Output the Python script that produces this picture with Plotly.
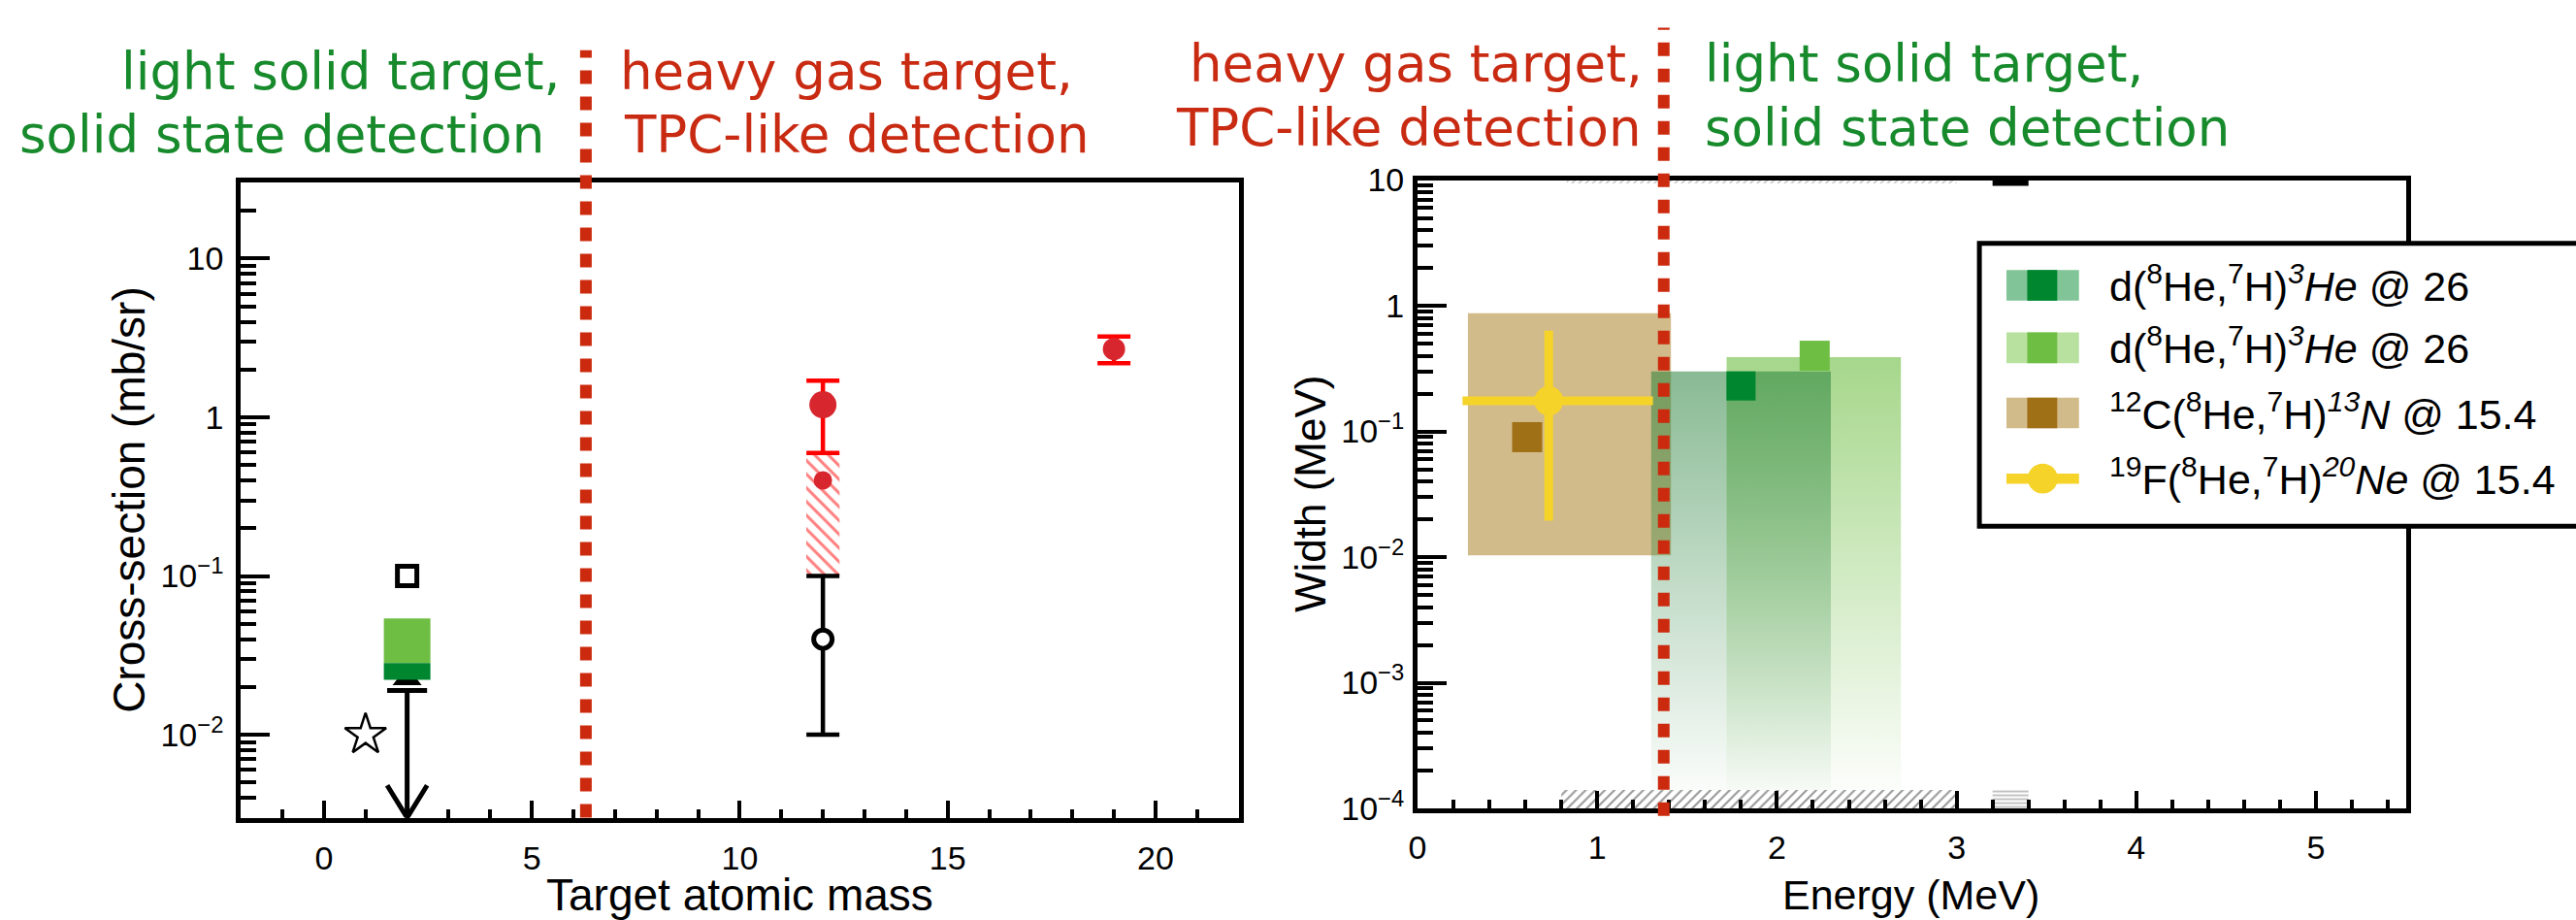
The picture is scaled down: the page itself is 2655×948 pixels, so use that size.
import math
import plotly.graph_objects as go

W, H = 2655, 948

# ---------------- left panel: cross-section vs target atomic mass ----------------
LEFT_X_RANGE = [-2, 22]
LEFT_Y_RANGE = [0.003, 30]
LEFT_X_TICKS = [0, 5, 10, 15, 20]
LEFT_Y_TICKS = [0.01, 0.1, 1, 10]
LEFT_Y_LABELS = ["10<sup>\u22122</sup>", "10<sup>\u22121</sup>", "1", "10"]

star_x, star_y = [1], [0.01]
open_square_x, open_square_y = [2], [0.1]

limit_x, limit_y = 2, 0.019          # upper limit at A = 2
limit_tri_y = 0.0225
green_x, green_half = 2, 0.56
dark_green_band = [0.0222, 0.0283]
light_green_band = [0.0283, 0.054]

open_circle_x, open_circle_y = [12], [0.04]
open_circle_hi, open_circle_lo = [0.1], [0.01]

hatch_x, hatch_half = 12, 0.4
hatch_band = [0.1, 0.6]

red_x, red_y = [12, 19], [1.2, 2.69]
red_hi, red_lo = [1.70, 3.23], [0.597, 2.19]
red_small_x, red_small_y = [12], [0.40]

left_divider = 6.3

# ---------------- right panel: width vs energy ----------------
RIGHT_X_RANGE = [0, 5.5]
RIGHT_Y_RANGE = [1e-4, 10]
RIGHT_X_TICKS = [0, 1, 2, 3, 4, 5]
RIGHT_Y_TICKS = [1e-4, 1e-3, 1e-2, 1e-1, 1, 10]
RIGHT_Y_LABELS = ["10<sup>\u22124</sup>", "10<sup>\u22123</sup>", "10<sup>\u22122</sup>",
                  "10<sup>\u22121</sup>", "1", "10"]

c12_box_e, c12_box_w = [0.28, 1.41], [0.0103, 0.87]
c12_pt_e, c12_pt_w = [0.61], [0.090]

f19_e, f19_e_lo, f19_e_hi = [0.73], [0.25], [1.31]
f19_w, f19_w_lo, f19_w_hi = [0.175], [0.0195], [0.634]

d1_box_e, d1_box_w = [1.30, 2.30], [1e-4, 0.30]
d1_pt_e, d1_pt_w = [1.80], [0.23]
d2_box_e, d2_box_w = [1.72, 2.69], [1e-4, 0.39]
d2_pt_e, d2_pt_w = [2.21], [0.40]

band_hatch_e, band_hatch_w = [0.80, 3.00], [1e-4, 1.4e-4]
band_lines_e, band_lines_w = [3.20, 3.40], [1e-4, 1.4e-4]
top_hatch_e, top_hatch_w = [0.83, 3.00], [9.4, 10]
top_bar_e, top_bar_w = [3.20, 3.40], [9.0, 10]

right_divider = 1.37

# ---------------- colours ----------------
DARK_GREEN = "#00862f"
LIGHT_GREEN = "#6fbe44"
PALE_DARK_GREEN = "#80c498"
PALE_LIGHT_GREEN = "#b8e1a0"
BROWN = "#a07017"
PALE_BROWN = "#d2bb8a"
YELLOW = "#f5d328"
RED = "#ff0000"
RED_DOT = "#d7262e"
DIVIDER_RED = "#cc2a0e"
TEXT_GREEN = "#178a2c"
TEXT_RED = "#c82a12"

FONT = "Liberation Sans, Arial, sans-serif"
HAND = "DejaVu Sans, sans-serif"


def px(x):
    return x / W


def py(y):
    return 1 - y / H


def rect(xr, yr):
    return ([xr[0], xr[1], xr[1], xr[0], xr[0]],
            [yr[0], yr[0], yr[1], yr[1], yr[0]])


fig = go.Figure()

# ---- left panel traces ----
fig.add_trace(go.Scatter(x=[limit_x], y=[limit_tri_y], mode="markers", xaxis="x", yaxis="y",
                         marker=dict(symbol="triangle-up", size=26, color="black")))

ux, uy = rect([green_x - green_half, green_x + green_half], light_green_band)
fig.add_trace(go.Scatter(x=ux, y=uy, fill="toself", fillcolor=LIGHT_GREEN, mode="lines",
                         line=dict(width=0), xaxis="x", yaxis="y"))
ux, uy = rect([green_x - green_half, green_x + green_half], dark_green_band)
fig.add_trace(go.Scatter(x=ux, y=uy, fill="toself", fillcolor=DARK_GREEN, mode="lines",
                         line=dict(width=0), xaxis="x", yaxis="y"))

# upper limit: cap, stem and open arrow head reaching the axis floor
y_floor = LEFT_Y_RANGE[0]
head_w = 0.48
fig.add_trace(go.Scatter(
    x=[limit_x - head_w, limit_x + head_w, None, limit_x, limit_x, None,
       limit_x - head_w, limit_x, limit_x + head_w],
    y=[limit_y, limit_y, None, limit_y, y_floor, None,
       y_floor * 1.6, y_floor, y_floor * 1.6],
    mode="lines", line=dict(color="black", width=5), xaxis="x", yaxis="y"))

fig.add_trace(go.Scatter(x=open_square_x, y=open_square_y, mode="markers", xaxis="x", yaxis="y",
                         marker=dict(symbol="square-open", size=20, color="black",
                                     line=dict(width=5, color="black"))))
fig.add_trace(go.Scatter(x=star_x, y=star_y, mode="markers", xaxis="x", yaxis="y",
                         marker=dict(symbol="star-open", size=32, color="black",
                                     line=dict(width=2.5, color="black"))))

# hatched band at A = 12
hx, hy = rect([hatch_x - hatch_half, hatch_x + hatch_half], hatch_band)
fig.add_trace(go.Scatter(x=hx, y=hy, fill="toself", mode="lines", line=dict(width=0),
                         fillpattern=dict(shape="\\", fgcolor=RED, bgcolor="white",
                                          size=10, solidity=0.3),
                         xaxis="x", yaxis="y"))

fig.add_trace(go.Scatter(
    x=open_circle_x, y=open_circle_y, mode="markers", xaxis="x", yaxis="y",
    error_y=dict(type="data", symmetric=False,
                 array=[h - v for h, v in zip(open_circle_hi, open_circle_y)],
                 arrayminus=[v - l for l, v in zip(open_circle_lo, open_circle_y)],
                 color="black", thickness=4.5, width=17),
    marker=dict(symbol="circle", size=19, color="white", opacity=1,
                line=dict(width=5, color="black"))))

fig.add_trace(go.Scatter(x=red_small_x, y=red_small_y, mode="markers", xaxis="x", yaxis="y",
                         marker=dict(symbol="circle", size=19, color=RED_DOT, opacity=1,
                                     line=dict(width=0))))
fig.add_trace(go.Scatter(
    x=red_x, y=red_y, mode="markers", xaxis="x", yaxis="y",
    error_y=dict(type="data", symmetric=False,
                 array=[h - v for h, v in zip(red_hi, red_y)],
                 arrayminus=[v - l for l, v in zip(red_lo, red_y)],
                 color=RED, thickness=4.5, width=17),
    marker=dict(symbol="circle", size=[28, 23], color=RED_DOT, opacity=1,
                line=dict(width=0))))

# ---- right panel traces ----
bx, by = rect(c12_box_e, c12_box_w)
fig.add_trace(go.Scatter(x=bx, y=by, fill="toself", fillcolor=PALE_BROWN, mode="lines",
                         line=dict(width=0), xaxis="x2", yaxis="y2"))

gx, gy = rect(d2_box_e, d2_box_w)
fig.add_trace(go.Scatter(x=gx, y=gy, fill="toself", mode="lines", line=dict(width=0),
                         fillgradient=dict(type="vertical",
                                           colorscale=[[0, "rgba(111,190,68,0.0)"],
                                                       [1, "rgba(111,190,68,0.62)"]]),
                         xaxis="x2", yaxis="y2"))
gx, gy = rect(d1_box_e, d1_box_w)
fig.add_trace(go.Scatter(x=gx, y=gy, fill="toself", mode="lines", line=dict(width=0),
                         fillgradient=dict(type="vertical",
                                           colorscale=[[0, "rgba(40,130,60,0.0)"],
                                                       [1, "rgba(40,130,60,0.55)"]]),
                         xaxis="x2", yaxis="y2"))

fig.add_trace(go.Scatter(x=d1_pt_e, y=d1_pt_w, mode="markers", xaxis="x2", yaxis="y2",
                         marker=dict(symbol="square", size=30, color=DARK_GREEN)))
fig.add_trace(go.Scatter(x=d2_pt_e, y=d2_pt_w, mode="markers", xaxis="x2", yaxis="y2",
                         marker=dict(symbol="square", size=31, color=LIGHT_GREEN)))
fig.add_trace(go.Scatter(x=c12_pt_e, y=c12_pt_w, mode="markers", xaxis="x2", yaxis="y2",
                         marker=dict(symbol="square", size=31, color=BROWN)))

fig.add_trace(go.Scatter(
    x=f19_e, y=f19_w, mode="markers", xaxis="x2", yaxis="y2",
    error_x=dict(type="data", symmetric=False,
                 array=[h - v for h, v in zip(f19_e_hi, f19_e)],
                 arrayminus=[v - l for l, v in zip(f19_e_lo, f19_e)],
                 color=YELLOW, thickness=9, width=0),
    error_y=dict(type="data", symmetric=False,
                 array=[h - v for h, v in zip(f19_w_hi, f19_w)],
                 arrayminus=[v - l for l, v in zip(f19_w_lo, f19_w)],
                 color=YELLOW, thickness=9, width=0),
    marker=dict(symbol="circle", size=30, color=YELLOW)))

# energy bands along the floor and ceiling of the width axis
for er, wr, shape, size, fg in [(band_hatch_e, band_hatch_w, "/", 7, "#333333"),
                                (band_lines_e, band_lines_w, "-", 4, "#333333"),
                                (top_hatch_e, top_hatch_w, "/", 5, "#888888")]:
    qx, qy = rect(er, wr)
    fig.add_trace(go.Scatter(x=qx, y=qy, fill="toself", mode="lines", line=dict(width=0),
                             fillpattern=dict(shape=shape, fgcolor=fg, bgcolor="white",
                                              size=size, solidity=0.3),
                             xaxis="x2", yaxis="y2"))
qx, qy = rect(top_bar_e, top_bar_w)
fig.add_trace(go.Scatter(x=qx, y=qy, fill="toself", fillcolor="black", mode="lines",
                         line=dict(width=0), xaxis="x2", yaxis="y2"))


def minor_log(lo_exp, hi_exp, lo, hi):
    vals = []
    for k in range(lo_exp, hi_exp + 1):
        for m in range(2, 10):
            v = m * 10 ** k
            if lo <= v <= hi:
                vals.append(v)
    return vals


axis_common = dict(showline=True, linewidth=5, linecolor="black", mirror=True,
                   showgrid=False, zeroline=False, ticks="inside", tickcolor="black",
                   tickwidth=4, tickfont=dict(family=FONT, size=34, color="black"))

fig.update_layout(
    width=W, height=H, autosize=False,
    margin=dict(l=0, r=0, t=0, b=0),
    paper_bgcolor="white", plot_bgcolor="white",
    showlegend=False,
    xaxis=dict(domain=[px(240), px(1272)], range=LEFT_X_RANGE, anchor="y",
               tickvals=LEFT_X_TICKS, ticklen=18, ticklabelstandoff=8,
               minor=dict(ticks="inside", dtick=1, tick0=0, ticklen=9, tickwidth=4,
                          tickcolor="black"),
               **axis_common),
    yaxis=dict(domain=[py(858), py(176.5)], type="log", anchor="x",
               range=[math.log10(LEFT_Y_RANGE[0]), math.log10(LEFT_Y_RANGE[1])],
               tickvals=LEFT_Y_TICKS, ticktext=LEFT_Y_LABELS, ticklen=30,
               ticklabelstandoff=6,
               minor=dict(ticks="inside", tickvals=minor_log(-3, 1, *LEFT_Y_RANGE),
                          ticklen=16, tickwidth=4, tickcolor="black"),
               **axis_common),
    xaxis2=dict(domain=[px(1457), px(2479)], range=RIGHT_X_RANGE, anchor="y2",
                tickvals=RIGHT_X_TICKS, ticklen=18, ticklabelstandoff=6,
                minor=dict(ticks="inside", dtick=0.2, tick0=0, ticklen=9, tickwidth=4,
                           tickcolor="black"),
                **axis_common),
    yaxis2=dict(domain=[py(848), py(173.5)], type="log", anchor="x2",
                range=[math.log10(RIGHT_Y_RANGE[0]), math.log10(RIGHT_Y_RANGE[1])],
                tickvals=RIGHT_Y_TICKS, ticktext=RIGHT_Y_LABELS, ticklen=30,
                ticklabelstandoff=2,
                minor=dict(ticks="inside", tickvals=minor_log(-4, 0, *RIGHT_Y_RANGE),
                           ticklen=16, tickwidth=4, tickcolor="black"),
                **axis_common),
)

shapes = []
# region dividers
shapes.append(dict(type="line", xref="x", yref="paper", x0=left_divider, x1=left_divider,
                   y0=py(858), y1=py(34), layer="above",
                   line=dict(color=DIVIDER_RED, width=12, dash="14px,13px")))
shapes.append(dict(type="line", xref="x2", yref="paper", x0=right_divider, x1=right_divider,
                   y0=py(856), y1=py(10), layer="above",
                   line=dict(color=DIVIDER_RED, width=12, dash="14px,13px")))

# legend frame
shapes.append(dict(type="rect", xref="paper", yref="paper", x0=px(2038), x1=px(2720),
                   y0=py(545), y1=py(241.5), fillcolor="white", layer="above",
                   line=dict(color="black", width=5)))

legend_rows = [286.5, 353.5, 423.5, 494]
swatches = [(PALE_DARK_GREEN, DARK_GREEN), (PALE_LIGHT_GREEN, LIGHT_GREEN), (PALE_BROWN, BROWN)]
for yc, (pale, dark) in zip(legend_rows, swatches):
    shapes.append(dict(type="rect", xref="paper", yref="paper", x0=px(2066), x1=px(2141),
                       y0=py(yc + 16.5), y1=py(yc - 16.5), fillcolor=pale, layer="above",
                       line=dict(width=0)))
    shapes.append(dict(type="rect", xref="paper", yref="paper", x0=px(2087.5), x1=px(2118.5),
                       y0=py(yc + 16.5), y1=py(yc - 16.5), fillcolor=dark, layer="above",
                       line=dict(width=0)))
yc = legend_rows[3]
shapes.append(dict(type="rect", xref="paper", yref="paper", x0=px(2066), x1=px(2141),
                   y0=py(yc + 5.5), y1=py(yc - 5.5), fillcolor=YELLOW, layer="above",
                   line=dict(width=0)))
shapes.append(dict(type="circle", xref="paper", yref="paper", x0=px(2088), x1=px(2119),
                   y0=py(yc + 16), y1=py(yc - 16), fillcolor=YELLOW, layer="above",
                   line=dict(width=0)))
fig.update_layout(shapes=shapes)

legend_labels = [
    "d(<sup>8</sup>He,<sup>7</sup>H)<sup><i>3</i></sup><i>He</i> @ 26",
    "d(<sup>8</sup>He,<sup>7</sup>H)<sup><i>3</i></sup><i>He</i> @ 26",
    "<sup>12</sup>C(<sup>8</sup>He,<sup>7</sup>H)<sup><i>13</i></sup><i>N</i> @ 15.4",
    "<sup>19</sup>F(<sup>8</sup>He,<sup>7</sup>H)<sup><i>20</i></sup><i>Ne</i> @ 15.4",
]

ann = []
for yc, lab in zip(legend_rows, legend_labels):
    ann.append(dict(text=lab, xref="paper", yref="paper", x=px(2170), y=py(yc - 2),
                    xanchor="left", yanchor="middle", showarrow=False,
                    font=dict(family=FONT, size=43, color="black")))

# axis titles
ann += [
    dict(text="Target atomic mass", xref="paper", yref="paper", x=px(756), y=py(941),
         xanchor="center", yanchor="middle", showarrow=False,
         font=dict(family=FONT, size=46, color="black")),
    dict(text="Cross-section (mb/sr)", xref="paper", yref="paper", x=px(125), y=py(517),
         xanchor="center", yanchor="middle", textangle=-90, showarrow=False,
         font=dict(family=FONT, size=46, color="black")),
    dict(text="Energy (MeV)", xref="paper", yref="paper", x=px(1967), y=py(941),
         xanchor="center", yanchor="middle", showarrow=False,
         font=dict(family=FONT, size=43, color="black")),
    dict(text="Width (MeV)", xref="paper", yref="paper", x=px(1346), y=py(510),
         xanchor="center", yanchor="middle", textangle=-90, showarrow=False,
         font=dict(family=FONT, size=44, color="black")),
]

# region captions
captions = [
    ("light solid target,", 572, 57, "right", TEXT_GREEN),
    ("solid state detection", 556, 124, "right", TEXT_GREEN),
    ("heavy gas target,", 630, 57, "left", TEXT_RED),
    ("TPC-like detection", 634, 124, "left", TEXT_RED),
    ("heavy gas target,", 1692, 48, "right", TEXT_RED),
    ("TPC-like detection", 1690, 117, "right", TEXT_RED),
    ("light solid target,", 1752, 48, "left", TEXT_GREEN),
    ("solid state detection", 1752, 117, "left", TEXT_GREEN),
]
for text, x, y, anchor, color in captions:
    ann.append(dict(text=text, xref="paper", yref="paper", x=px(x), y=py(y),
                    xanchor=anchor, yanchor="middle", showarrow=False,
                    font=dict(family=HAND, size=53, color=color)))

fig.update_layout(annotations=ann)

fig.write_html("out.html")
